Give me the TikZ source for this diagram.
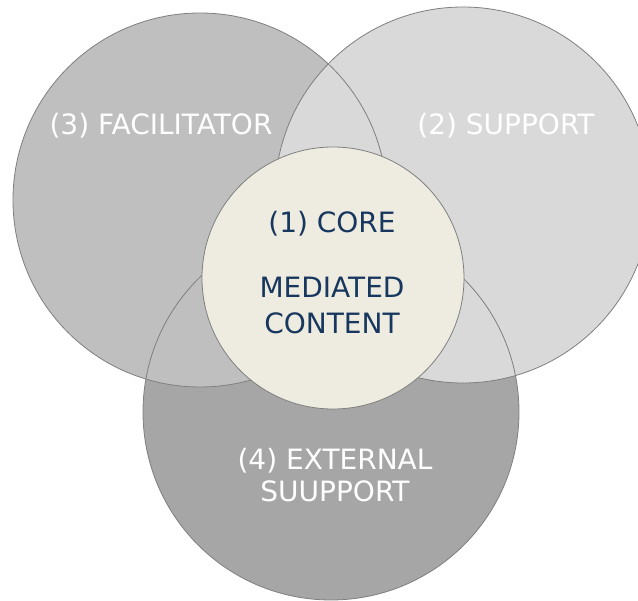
\documentclass[tikz,border=0pt]{standalone}
\usepackage{fontspec}
\setmainfont{DejaVu Sans}
\usetikzlibrary{positioning}

\definecolor{facilgray}{HTML}{BFBFBF}
\definecolor{suppgray}{HTML}{D9D9D9}
\definecolor{extgray}{HTML}{A6A6A6}
\definecolor{corefill}{HTML}{EEECE1}
\definecolor{coreblue}{HTML}{17375E}
\definecolor{rimgray}{HTML}{7F7F7F}

\tikzset{
  rim/.style={draw=rimgray,line width=0.8pt},
  outertext/.style={text=white,align=center,anchor=base,inner sep=0pt,
    font=\fontsize{28}{32}\selectfont},
  coretext/.style={text=coreblue,align=center,anchor=base,inner sep=0pt,
    font=\fontsize{28}{34}\selectfont}
}

\begin{document}
\begin{tikzpicture}[x=1pt,y=-1pt]
 \useasboundingbox (0,0) rectangle (638,601);
 \clip (0,0) rectangle (638,601);
 % fills, back to front
 \fill[extgray](331,412) circle [radius=188pt];
 \fill[facilgray](200,200) circle [radius=187pt];
 \fill[suppgray](463,195) circle [radius=188pt];
 % rims on top of all fills
 \draw[rim](331,412) circle [radius=188pt];
 \draw[rim](200,200) circle [radius=187pt];
 \draw[rim](463,195) circle [radius=188pt];
 % core
 \draw[rim,fill=corefill](333,278) circle [radius=131pt];

 % labels (base = last line)
 \node[outertext] (facil) at (161,135) {(3) FACILITATOR};
 \node[outertext] (supp) at (506,135) {(2) SUPPORT};
 \node[outertext] (ext) at (335,502) {(4) EXTERNAL\\SUUPPORT};
 \node[coretext] (core) at (332,334) {(1) CORE\\[31pt]MEDIATED\\[2pt]CONTENT};
\end{tikzpicture}
\end{document}
